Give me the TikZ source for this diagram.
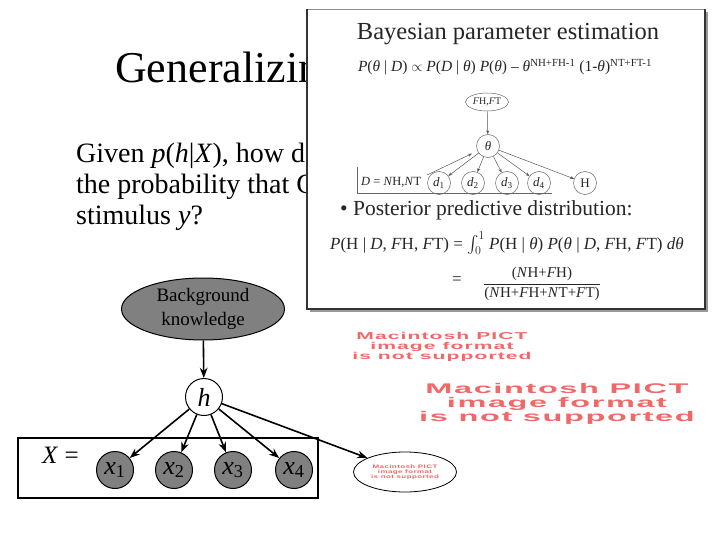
\documentclass[tikz,border=0pt]{standalone}
\usepackage{amsmath,amssymb}
\usepackage{fontspec}
\setmainfont{Liberation Serif}
\newfontfamily\pictfont[FakeStretch=1.6,LetterSpace=8]{Liberation Sans}
\usepackage{xcolor}
\usetikzlibrary{shapes.geometric, arrows.meta, positioning}
\definecolor{nodegray}{RGB}{128,128,128}
\definecolor{pictred}{RGB}{240,104,104}

\begin{document}
\begin{tikzpicture}[
    x=1pt, y=-1pt,
    >=Stealth,
    slidetitle/.style={font=\fontsize{44}{50}\selectfont, anchor=base west, inner sep=0pt},
    slidetext/.style={font=\fontsize{28}{31}\selectfont, anchor=base west, inner sep=0pt},
    bgnode/.style={ellipse, draw=black, fill=nodegray, line width=1pt, minimum width=163pt, minimum height=62pt, align=center, font=\fontsize{19}{24}\selectfont, inner sep=0pt},
    hnode/.style={circle, draw=black, fill=white, line width=1pt, minimum size=37pt, inner sep=0pt, font=\fontsize{26}{26}\selectfont},
    obsnode/.style={hnode, fill=nodegray},
    pictnode/.style={ellipse, draw=black, line width=0.8pt, minimum width=103pt, minimum height=40pt, inner sep=0pt},
    picttext/.style={text=pictred, align=center, inner sep=0pt, font=\pictfont\bfseries\fontsize{#1}{#1}\selectfont},
    arr/.style={->, line width=1.6pt},
    plate/.style={draw=black, line width=1.2pt},
    shottext/.style={text=black!85, inner sep=0pt},
    bnode/.style={circle, draw=black!60, line width=0.5pt, minimum size=23pt, inner sep=0pt, text=black!85, font=\fontsize{13}{13}\selectfont},
    barr/.style={-{Stealth[length=4pt,width=3pt]}, draw=black!65, line width=0.5pt}
]
\useasboundingbox (0,0) rectangle (720,540);

% Slide text (partly hidden by the inset)
\node[slidetitle] (title) at (115,83) {Generalizing};
\node[slidetext] (q1) at (76,163) {Given \textit{p}(\textit{h}|\textit{X}), how do};
\node[slidetext] (q2) at (76,194) {the probability that C};
\node[slidetext] (q3) at (76,225) {stimulus \textit{y}?};

% Graphical model
\node[bgnode] (bk) at (203,309) {Background\\knowledge};
\node[hnode] (h) at (204,397) {\textit{h}};

\draw[plate] (18,438) rectangle (318,498);
\node[anchor=base west, inner sep=0pt, font=\fontsize{25}{25}\selectfont] (xeq) at (42,463) {\textit{X} =};
\foreach \i/\x in {1/115,2/174,3/233,4/294}
    \node[obsnode] (x\i) at (\x,470) {\textit{x}\textsubscript{\i}};

\node[pictnode] (pict) at (405,472) {};
\node[picttext=5] (pictmsg) at (pict) {Macintosh PICT\\image format\\is not supported};

\node[picttext=10, xscale=1.32, transform shape] (pictsmall) at (442,347) {Macintosh PICT\\image format\\is not supported};
\node[picttext=14, xscale=1.45, transform shape] (pictlarge) at (557,404) {Macintosh PICT\\image format\\is not supported};

% ---- ARROWS ----
\draw[arr] (bk) -- (h);
\foreach \i in {1,...,4}
    \draw[arr] (h) -- (x\i);
\draw[arr] (h) -- (pict);

% ---- INSET: Bayesian parameter estimation ----
\fill[black!40] (310,12) rectangle (708,312);
\fill[white] (307,9) rectangle (705,309);
\draw[black!45, line width=0.8pt] (307,9) -- (705,9);
\draw[black!80, line width=2pt] (307,9) -- (307,309) -- (705,309) -- (705,9);

\node[shottext, anchor=base, font=\fontsize{24.5}{25}\selectfont] (btitle) at (508,40) {Bayesian parameter estimation};
\node[shottext, anchor=base, font=\fontsize{15.5}{16}\selectfont] (eqprior) at (505,72)
    {\textit{P}(\textit{θ} | \textit{D}) $\propto$ \textit{P}(\textit{D} | \textit{θ}) \textit{P}(\textit{θ}) -- \textit{θ}\textsuperscript{NH+FH-1} (1-\textit{θ})\textsuperscript{NT+FT-1}};

\node[bnode, ellipse, minimum width=43pt, minimum height=18pt, font=\fontsize{10}{10}\selectfont] (fhft) at (487,102) {\textit{F}H,\textit{F}T};
\node[bnode] (theta) at (488,146) {\textit{θ}};
\foreach \i/\x in {1/439,2/473,3/507,4/539}
    \node[bnode] (d\i) at (\x,183) {\textit{d}\textsubscript{\i}};
\node[bnode] (hd) at (585,183) {H};

\node[shottext, anchor=west, font=\fontsize{12.5}{13}\selectfont] (dlbl) at (361,182) {\textit{D} = \textit{N}H,\textit{N}T};
\draw[black!60, line width=0.5pt] (357,167) -- (357,193) -- (552,193);
\coordinate (dtail) at (427,175);

\draw[barr] (fhft) -- (theta);
\draw[barr, shorten >=6pt] (dtail) -- (theta);
\foreach \i in {1,...,4}
    \draw[barr] (theta) -- (d\i);
\draw[barr] (theta) -- (hd);

\node[shottext, anchor=base west, font=\fontsize{21.5}{22}\selectfont] (post) at (340,215) {•\ Posterior predictive distribution:};
\node[shottext, anchor=base west, font=\fontsize{17}{17}\selectfont] (eqpost) at (330,249)
    {\textit{P}(H | \textit{D}, \textit{F}H, \textit{F}T) = $\int_0^1$ \textit{P}(H | \textit{θ}) \textit{P}(\textit{θ} | \textit{D}, \textit{F}H, \textit{F}T) \textit{dθ}};
\node[shottext, font=\fontsize{17}{17}\selectfont] (eqsign) at (457,281) {=};
\node[shottext, font=\fontsize{15}{15}\selectfont] (eqfrac) at (542,284)
    {$\dfrac{\text{(\textit{N}H+\textit{F}H)}}{\text{(\textit{N}H+\textit{F}H+\textit{N}T+\textit{F}T)}}$};

\end{tikzpicture}
\end{document}
